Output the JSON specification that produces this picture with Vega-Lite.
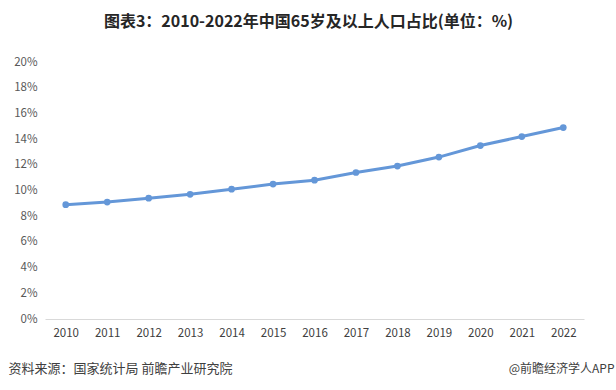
{
  "$schema": "https://vega.github.io/schema/vega-lite/v6.json",
  "width": 539,
  "height": 257,
  "autosize": "none",
  "padding": {"left": 45, "top": 62, "right": 32, "bottom": 71},
  "background": "white",
  "title": {
    "text": "图表3：2010-2022年中国65岁及以上人口占比(单位：%)",
    "font": "Noto Sans CJK SC",
    "fontSize": 16,
    "fontWeight": "bold",
    "color": "#262626",
    "anchor": "middle",
    "frame": "group",
    "dx": -6,
    "offset": 26
  },
  "data": {
    "values": [
      {"year": "2010", "pct": 8.9},
      {"year": "2011", "pct": 9.1},
      {"year": "2012", "pct": 9.4},
      {"year": "2013", "pct": 9.7},
      {"year": "2014", "pct": 10.1},
      {"year": "2015", "pct": 10.5},
      {"year": "2016", "pct": 10.8},
      {"year": "2017", "pct": 11.4},
      {"year": "2018", "pct": 11.9},
      {"year": "2019", "pct": 12.6},
      {"year": "2020", "pct": 13.5},
      {"year": "2021", "pct": 14.2},
      {"year": "2022", "pct": 14.9}
    ]
  },
  "mark": {"type": "line", "color": "#6497d8", "strokeWidth": 3, "point": {"filled": true, "size": 45, "color": "#6497d8"}},
  "encoding": {
    "x": {
      "field": "year",
      "type": "ordinal",
      "scale": {"type": "point", "padding": 0.5},
      "axis": {
        "labelAngle": 0,
        "ticks": false,
        "domainColor": "#d9d9d9",
        "domainWidth": 1,
        "labelPadding": 8,
        "labelFont": "Noto Sans CJK SC",
        "labelFontSize": 11.5,
        "labelColor": "#404040",
        "title": "资料来源：国家统计局 前瞻产业研究院",
        "titleFont": "Noto Sans CJK SC",
        "titleFontSize": 13,
        "titleFontWeight": "normal",
        "titleColor": "#404040",
        "titleAnchor": "start",
        "titleAlign": "left",
        "titleBaseline": "middle",
        "titleX": -37,
        "titleY": 49
      }
    },
    "y": {
      "field": "pct",
      "type": "quantitative",
      "scale": {"domain": [0, 20], "nice": false},
      "axis": {
        "values": [0, 2, 4, 6, 8, 10, 12, 14, 16, 18, 20],
        "labelExpr": "datum.value + '%'",
        "grid": false,
        "domain": false,
        "ticks": false,
        "labelPadding": 8,
        "labelFont": "Noto Sans CJK SC",
        "labelFontSize": 11.5,
        "labelColor": "#595959",
        "title": "@前瞻经济学人APP",
        "titleFont": "Noto Sans CJK SC",
        "titleFontSize": 12,
        "titleFontWeight": "normal",
        "titleColor": "#404040",
        "titleAngle": 0,
        "titleAlign": "right",
        "titleBaseline": "middle",
        "titleX": 569,
        "titleY": 306
      }
    }
  },
  "config": {"view": {"stroke": null}}
}
